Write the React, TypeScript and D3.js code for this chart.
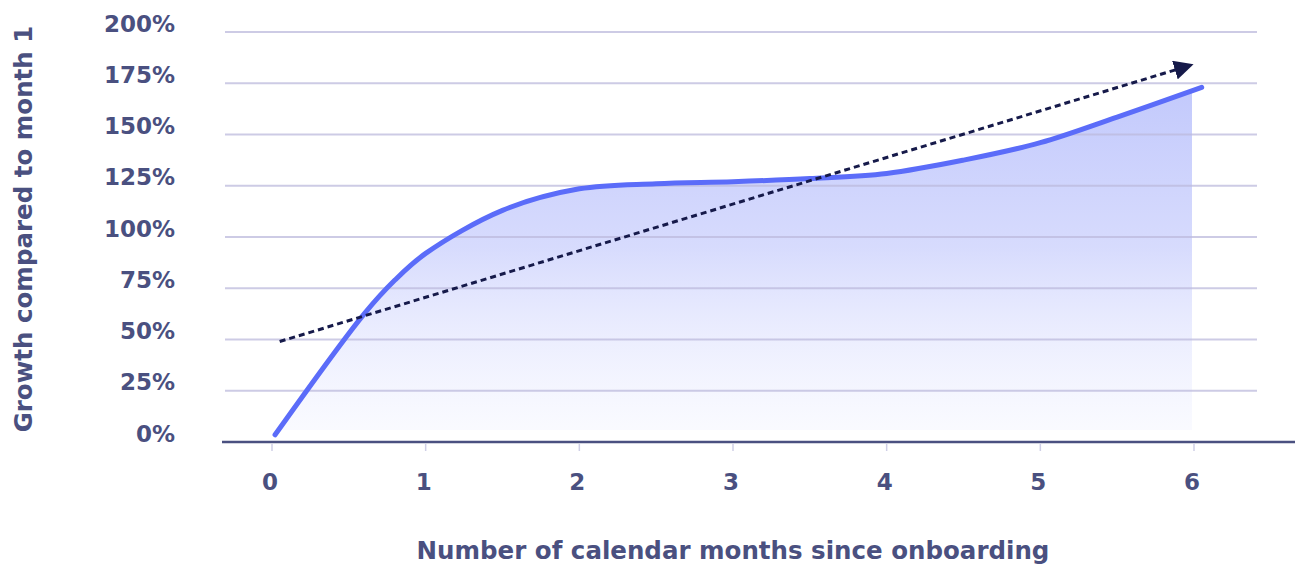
import React, { useEffect, useRef } from 'react';
import * as d3 from 'd3';

// growth curve (months since onboarding, % vs month 1)
const curveMonths = [0.02, 0.6, 0.8, 1, 1.5, 2, 2.5, 3, 3.5, 4, 4.5, 5, 5.5, 6.05];
const curveGrowth = [3.5, 62.5, 79, 92, 113, 123.5, 126, 127, 128.5, 131, 137.5, 146, 158.5, 173];

// dashed trend arrow
const trendMonths = [0.05, 5.9];
const trendGrowth = [49, 182];

const xTicks = [0, 1, 2, 3, 4, 5, 6];
const yTicks = [0, 25, 50, 75, 100, 125, 150, 175, 200];

const xTitle = 'Number of calendar months since onboarding';
const yTitle = 'Growth compared to month 1';

const App = () => {
  const ref = useRef<SVGSVGElement | null>(null);

  useEffect(() => {
    const W = 1295;
    const H = 565;
    const textColor = '#4a5080';
    const font = "'DejaVu Sans', sans-serif";

    const svg = d3.select(ref.current);
    svg.selectAll('*').remove();

    const x = d3.scaleLinear().domain([0, 6]).range([272, 1194]);
    const y = d3.scaleLinear().domain([0, 200]).range([442, 32]);

    const defs = svg.append('defs');
    const grad = defs
      .append('linearGradient')
      .attr('id', 'areaGrad')
      .attr('x1', 0)
      .attr('y1', 0)
      .attr('x2', 0)
      .attr('y2', 1);
    grad.append('stop').attr('offset', '0%').attr('stop-color', '#aeb7fb').attr('stop-opacity', 0.75);
    grad.append('stop').attr('offset', '45%').attr('stop-color', '#bcc3fc').attr('stop-opacity', 0.6);
    grad.append('stop').attr('offset', '100%').attr('stop-color', '#eef0ff').attr('stop-opacity', 0.25);

    defs
      .append('clipPath')
      .attr('id', 'areaClip')
      .append('rect')
      .attr('x', 0)
      .attr('y', 0)
      .attr('width', x(6) - 2)
      .attr('height', 430);

    defs
      .append('marker')
      .attr('id', 'arrow')
      .attr('viewBox', '0 0 10 10')
      .attr('refX', 2)
      .attr('refY', 5)
      .attr('markerWidth', 6.5)
      .attr('markerHeight', 6.5)
      .attr('markerUnits', 'strokeWidth')
      .attr('orient', 'auto')
      .append('path')
      .attr('d', 'M0,0 L10,5 L0,10 Z')
      .attr('fill', '#161a4a');

    const curve = curveMonths.map((m, i) => ({ m, g: curveGrowth[i] }));
    const trend = trendMonths.map((m, i) => ({ m, g: trendGrowth[i] }));

    // area under curve
    const area = d3
      .area<{ m: number; g: number }>()
      .x(d => x(d.m))
      .y0(y(0))
      .y1(d => y(d.g))
      .curve(d3.curveCatmullRom.alpha(0.5));
    svg
      .append('path')
      .datum(curve)
      .attr('d', area)
      .attr('fill', 'url(#areaGrad)')
      .attr('clip-path', 'url(#areaClip)');

    // gridlines
    svg
      .append('g')
      .selectAll('line')
      .data(yTicks.filter(t => t > 0))
      .enter()
      .append('line')
      .attr('x1', 225)
      .attr('x2', 1257)
      .attr('y1', d => y(d))
      .attr('y2', d => y(d))
      .attr('stroke', '#bcb9dc')
      .attr('stroke-opacity', 0.75)
      .attr('stroke-width', 2);

    // x axis baseline + ticks
    svg
      .append('line')
      .attr('x1', 222)
      .attr('x2', W)
      .attr('y1', y(0))
      .attr('y2', y(0))
      .attr('stroke', textColor)
      .attr('stroke-width', 2.5);

    svg
      .append('g')
      .selectAll('line')
      .data(xTicks)
      .enter()
      .append('line')
      .attr('x1', d => x(d))
      .attr('x2', d => x(d))
      .attr('y1', y(0) + 2)
      .attr('y2', y(0) + 9)
      .attr('stroke', '#cfcfe6')
      .attr('stroke-width', 1.5);

    const styleText = (sel: any, size: number) =>
      sel
        .attr('fill', textColor)
        .style('font-family', font)
        .style('font-weight', 'bold')
        .style('font-size', `${size}px`);

    svg
      .append('g')
      .selectAll('text')
      .data(xTicks)
      .enter()
      .append('text')
      .attr('x', d => x(d) - 2)
      .attr('y', 490)
      .attr('text-anchor', 'middle')
      .call(styleText, 23)
      .text(d => String(d));

    svg
      .append('g')
      .selectAll('text')
      .data(yTicks)
      .enter()
      .append('text')
      .attr('x', 175)
      .attr('y', d => y(d) - 0.5)
      .attr('text-anchor', 'end')
      .call(styleText, 23)
      .text(d => `${d}%`);

    // growth line
    const line = d3
      .line<{ m: number; g: number }>()
      .x(d => x(d.m))
      .y(d => y(d.g))
      .curve(d3.curveCatmullRom.alpha(0.5));
    svg
      .append('path')
      .datum(curve)
      .attr('d', line)
      .attr('fill', 'none')
      .attr('stroke', '#5b6cf9')
      .attr('stroke-width', 5)
      .attr('stroke-linecap', 'round');

    // trend arrow
    svg
      .append('path')
      .datum(trend)
      .attr('d', d3.line<{ m: number; g: number }>().x(d => x(d.m)).y(d => y(d.g)))
      .attr('fill', 'none')
      .attr('stroke', '#161a4a')
      .attr('stroke-width', 3)
      .attr('stroke-dasharray', '6,4')
      .attr('marker-end', 'url(#arrow)');

    // axis titles
    svg
      .append('text')
      .attr('x', 733)
      .attr('y', 559)
      .attr('text-anchor', 'middle')
      .call(styleText, 24.5)
      .text(xTitle);

    svg
      .append('text')
      .attr('transform', `translate(32,${229}) rotate(-90)`)
      .attr('text-anchor', 'middle')
      .call(styleText, 24.5)
      .text(yTitle);

    svg.attr('width', W).attr('height', H);
  }, []);

  return (
    <svg
      ref={ref}
      width={1295}
      height={565}
      style={{ position: 'absolute', left: 0, top: 0, background: '#fff' }}
    />
  );
};

export default App;
